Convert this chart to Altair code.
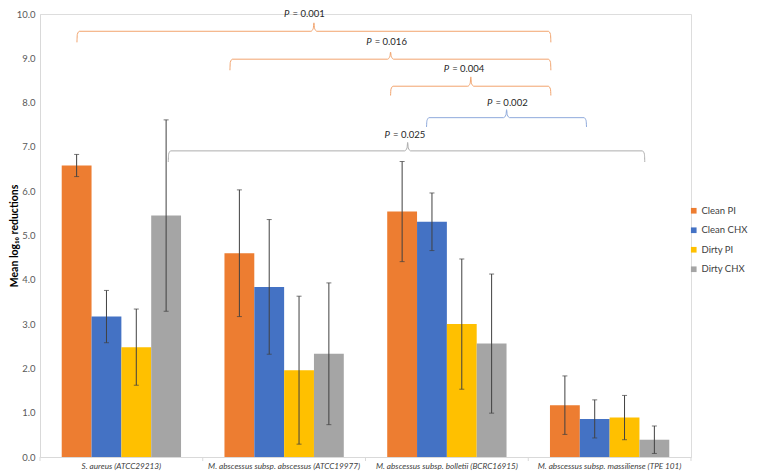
import altair as alt
import pandas as pd

# ---------------- data ----------------
categories = [
    "S. aureus (ATCC29213)",
    "M. abscessus subsp. abscessus (ATCC19977)",
    "M. abscessus subsp. bolletii (BCRC16915)",
    "M. abscessus subsp. massiliense (TPE 101)",
]
series = ["Clean PI", "Clean CHX", "Dirty PI", "Dirty CHX"]
colors = ["#ED7D31", "#4472C4", "#FFC000", "#A5A5A5"]

clean_pi = [6.58, 4.60, 5.54, 1.17]
clean_pi_err = [0.25, 1.43, 1.13, 0.66]
clean_chx = [3.17, 3.84, 5.31, 0.86]
clean_chx_err = [0.59, 1.52, 0.65, 0.43]
dirty_pi = [2.48, 1.96, 3.00, 0.89]
dirty_pi_err = [0.86, 1.67, 1.47, 0.50]
dirty_chx = [5.45, 2.33, 2.56, 0.39]
dirty_chx_err = [2.16, 1.60, 1.57, 0.31]

y_ticks = [0, 1, 2, 3, 4, 5, 6, 7, 8, 9, 10]

# significance brackets (x in group units: group i spans [i, i+1])
br_labels = ["= 0.001", "= 0.016", "= 0.004", "= 0.002", "= 0.025"]
br_x1 = [0.227, 1.167, 2.154, 2.375, 0.788]
br_x2 = [3.139, 3.139, 3.139, 3.358, 3.716]
br_mid = [1.683, 2.154, 2.647, 2.867, 2.259]
br_text_x = [1.622, 2.127, 2.603, 2.869, 2.240]
br_line = [9.61, 8.98, 8.37, 7.66, 6.91]
br_end = [9.36, 8.73, 8.16, 7.45, 6.66]
br_notch = [9.80, 9.14, 8.58, 7.84, 7.10]
br_text_y = [10.0, 9.37, 8.76, 7.99, 7.27]
br_color = ["#F2A46E", "#F2A46E", "#F2A46E", "#8FAADC", "#ADADAD"]

group_edges = [0, 1, 2, 3, 4]

# ---------------- layout ----------------
W, H = 651, 443
PX = 4.0 / W          # one pixel in x group units
PY = 10.0 / H         # one pixel in y value units

# ---------------- tables ----------------
vals = [clean_pi, clean_chx, dirty_pi, dirty_chx]
errs = [clean_pi_err, clean_chx_err, dirty_pi_err, dirty_chx_err]
rows = []
for s, v, e in zip(series, vals, errs):
    for c, vi, ei in zip(categories, v, e):
        rows.append({"category": c, "series": s, "value": vi,
                     "lo": vi - ei, "hi": vi + ei})
df = pd.DataFrame(rows)

pts = []
for i in range(len(br_labels)):
    x1, x2, m = br_x1[i], br_x2[i], br_mid[i]
    yl, ye, yn = br_line[i], br_end[i], br_notch[i]
    path = [
        (x1, ye), (x1 + 0.4 * PX, yl - 3 * PY), (x1 + 2.5 * PX, yl),
        (m - 3 * PX, yl), (m - 0.6 * PX, yl + 3 * PY), (m, yn),
        (m + 0.6 * PX, yl + 3 * PY), (m + 3 * PX, yl),
        (x2 - 2.5 * PX, yl), (x2 - 0.4 * PX, yl - 3 * PY), (x2, ye),
    ]
    for k, (px, py) in enumerate(path):
        pts.append({"bid": i, "k": k, "bx": px, "by": py, "col": br_color[i]})
br_df = pd.DataFrame(pts)
txt_df = pd.DataFrame({"tx": br_text_x, "ty": br_text_y, "lab": br_labels})
tick_df = pd.DataFrame({"t": group_edges})

FONT = "Lato"
ttl = "Mean log₁₀ reductions"
yscale = alt.Scale(domain=[0, 10], nice=False)
yaxis = alt.Axis(values=y_ticks, format=".1f", ticks=False, tickSize=0, grid=False,
                 domainColor="#D9D9D9", labelColor="#595959", labelFontSize=9.5,
                 labelPadding=5, labelFont=FONT,
                 title=ttl, titleFont=FONT, titleFontSize=10.5,
                 titleFontWeight="bold", titleColor="#000000", titleX=-21,
                 titleBaseline="bottom")

xband = alt.X("category:N", sort=categories,
              scale=alt.Scale(paddingInner=0, paddingOuter=0),
              axis=alt.Axis(title=None, ticks=False, tickSize=0, labelAngle=0,
                            labelFont=FONT, labelFontStyle="italic", labelFontSize=8.2,
                            labelColor="#404040", labelPadding=5, labelLimit=0,
                            domainColor="#D9D9D9"))
xoff = alt.XOffset("series:N", sort=series,
                   scale=alt.Scale(paddingOuter=0.728, paddingInner=0))

base = alt.Chart(df)
bars = base.mark_bar().encode(
    x=xband, xOffset=xoff,
    y=alt.Y("value:Q", scale=yscale, axis=yaxis, title=ttl),
    color=alt.Color("series:N", sort=series,
                    scale=alt.Scale(domain=series, range=colors),
                    legend=alt.Legend(orient="none", legendX=649, legendY=192,
                                      title=None, symbolType="square", symbolSize=32,
                                      symbolStrokeWidth=0, labelFont=FONT,
                                      labelFontSize=9.5, labelColor="#404040",
                                      rowPadding=8.5, labelOffset=3, padding=0)),
)
err = base.mark_rule(color="#404040", strokeWidth=1).encode(
    x=xband, xOffset=xoff,
    y=alt.Y("lo:Q", scale=yscale, axis=yaxis, title=ttl), y2="hi:Q")
cap_lo = base.mark_tick(color="#404040", size=5, thickness=1).encode(
    x=xband, xOffset=xoff, y=alt.Y("lo:Q", scale=yscale, axis=yaxis, title=ttl))
cap_hi = base.mark_tick(color="#404040", size=5, thickness=1).encode(
    x=xband, xOffset=xoff, y=alt.Y("hi:Q", scale=yscale, axis=yaxis, title=ttl))

xlin = alt.Scale(domain=[0, 4], nice=False, zero=False)

brackets = alt.Chart(br_df).mark_line(strokeWidth=1, interpolate="monotone", clip=False).encode(
    x=alt.X("bx:Q", scale=xlin, axis=None),
    y=alt.Y("by:Q", scale=yscale, axis=yaxis, title=ttl),
    detail="bid:N", order="k:Q",
    color=alt.Color("col:N", scale=None),
)
p_txt = alt.Chart(txt_df).mark_text(text="P", font=FONT, fontSize=9.5, fontStyle="italic",
                                    align="left", baseline="middle", dx=-20,
                                    color="#262626").encode(
    x=alt.X("tx:Q", scale=xlin, axis=None),
    y=alt.Y("ty:Q", scale=yscale, axis=yaxis, title=ttl))
v_txt = alt.Chart(txt_df).mark_text(font=FONT, fontSize=9.5, align="left",
                                    baseline="middle", dx=-11.5,
                                    color="#262626").encode(
    x=alt.X("tx:Q", scale=xlin, axis=None),
    y=alt.Y("ty:Q", scale=yscale, axis=yaxis, title=ttl),
    text="lab:N")
xticks = alt.Chart(tick_df).mark_rule(color="#D9D9D9", strokeWidth=1).encode(
    x=alt.X("t:Q", scale=xlin, axis=None),
    y=alt.value(H), y2=alt.value(H + 4))

bar_layer = alt.layer(bars, err, cap_lo, cap_hi)
annot = alt.layer(brackets, p_txt, v_txt, xticks)

chart = alt.layer(bar_layer, annot).resolve_scale(x="independent").properties(
    width=W, height=H,
    autosize=alt.AutoSizeParams(type="none"),
    padding={"left": 32, "top": 6, "right": 61, "bottom": 14},
).configure_view(stroke=None).configure(background="white")

chart.save("out.html", embed_options={"renderer": "svg", "actions": False})
